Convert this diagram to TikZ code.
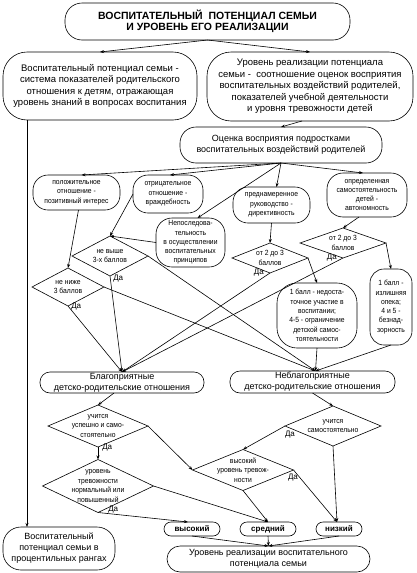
\documentclass[tikz,border=0pt]{standalone}
\usepackage{fontspec}
\setmainfont{Liberation Sans}
\newfontfamily\nfont[FakeStretch=0.9]{Liberation Sans}
\usetikzlibrary{shapes.geometric,arrows.meta}
\begin{document}
\begin{tikzpicture}[x=1pt,y=-1pt,
  every path/.style={line width=0.6pt},
  rbx/.style={draw, rounded corners=#1, align=center, inner sep=0pt, outer sep=0pt},
  rbx/.default=12pt,
  big/.style={font=\fontsize{9.5}{11.5}\selectfont},
  mid/.style={font=\fontsize{9}{11}\selectfont},
  sm/.style={font=\nfont\fontsize{7.5}{9.3}\selectfont},
  res/.style={font=\bfseries\fontsize{8}{9}\selectfont},
  dia/.style={draw, diamond, inner sep=0pt, outer sep=0pt},
  dtx/.style={font=\nfont\fontsize{7.5}{9.5}\selectfont, align=center, inner sep=0pt},
  da/.style={font=\fontsize{8}{8}\selectfont, inner sep=0pt},
  arr/.style={-{Stealth[length=4pt,width=3pt]}}
]
\useasboundingbox (0,0) rectangle (416,573);

% top
\node[rbx=17pt, minimum width=285pt, minimum height=37pt,
      font=\bfseries\fontsize{10.5}{11.5}\selectfont] (title) at (207.5,21.5)
  {ВОСПИТАТЕЛЬНЫЙ\ \ ПОТЕНЦИАЛ СЕМЬИ\\И УРОВЕНЬ ЕГО РЕАЛИЗАЦИИ};
\node[rbx=24pt, big, minimum width=194pt, minimum height=68pt] (lbox) at (100,86)
  {Воспитательный потенциал семьи -\\система показателей родительского\\отношения к детям, отражающая\\уровень знаний в вопросах воспитания};
\node[rbx=24pt, big, minimum width=206pt, minimum height=69pt] (rbox) at (310,86.5)
  {Уровень реализации потенциала\\семьи -\ \ соотношение оценок восприятия\\воспитательных воздействий родителей,\\показателей учебной деятельности\\и уровня тревожности детей};
\node[rbx=16pt, mid, minimum width=202pt, minimum height=36pt] (ocenka) at (281,145)
  {Оценка восприятия подростками\\воспитательных воздействий родителей};

% categories
\node[rbx=15pt, sm, minimum width=87pt, minimum height=35pt] (pos) at (76.5,192.5)
  {положительное\\отношение -\\позитивный интерес};
\node[rbx=15pt, sm, minimum width=70pt, minimum height=38pt] (neg) at (168,194)
  {отрицательное\\отношение -\\враждебность};
\node[rbx=16pt, sm, minimum width=69pt, minimum height=49pt] (nonseq) at (190.5,242.5)
  {Непоследова-\\тельность\\в осуществлении\\воспитательных\\принципов};
\node[rbx=15pt, sm, minimum width=77pt, minimum height=36pt] (pred) at (271.5,205)
  {преднамеренное\\руководство -\\директивность};
\node[rbx=16pt, sm, minimum width=80pt, minimum height=44pt] (def) at (367,195)
  {определенная\\самостоятельность\\детей -\\автономность};

% diamonds upper
\node[dia, minimum width=76pt, minimum height=40pt] (d1) at (110,256) {};
\node[dtx] (d1t) at (d1) {не выше\\3-х баллов};
\node[dia, minimum width=72pt, minimum height=38pt] (d2) at (68,287) {};
\node[dtx] (d2t) at (d2) {не ниже\\3 баллов};
\node[dia, minimum width=76pt, minimum height=30pt] (d3) at (270,258) {};
\node[dtx] (d3t) at (d3) {от 2 до 3\\баллов};
\node[dia, minimum width=86pt, minimum height=30pt] (d4) at (343,243) {};
\node[dtx] (d4t) at (d4) {от 2 до 3\\баллов};

\node[rbx=20pt, sm, minimum width=80pt, minimum height=65pt] (insuff) at (317,315.5)
  {1 балл - недоста-\\точное участие в\\воспитании;\\4-5 - ограничение\\детской самос-\\тоятельности};
\node[rbx=14pt, sm, minimum width=42pt, minimum height=76pt] (excess) at (391,307)
  {1 балл -\\излишняя\\опека;\\4 и 5 -\\безнад-\\зорность};

% relations
\node[rbx=10pt, mid, minimum width=164pt, minimum height=21pt] (blag) at (122,382.5)
  {Благоприятные\\детско-родительские отношения};
\node[rbx=10pt, mid, minimum width=165pt, minimum height=22pt] (nebl) at (312.5,382)
  {Неблагоприятные\\детско-родительские отношения};

% diamonds lower
\node[dia, minimum width=100pt, minimum height=42pt] (d5) at (98,426) {};
\node[dtx] (d5t) at (d5) {учится\\успешно и само-\\стоятельно};
\node[dia, minimum width=96pt, minimum height=40pt] (d6) at (333,426) {};
\node[dtx] (d6t) at (d6) {учится\\самостоятельно};
\node[dia, minimum width=111pt, minimum height=53pt] (d7) at (98,486) {};
\node[dtx] (d7t) at (d7) {уровень\\тревожности\\нормальный или\\повышенный};
\node[dia, minimum width=101pt, minimum height=41pt] (d8) at (243,470) {};
\node[dtx] (d8t) at (d8) {высокий\\уровень тревож-\\ности};

% results
\node[rbx=7pt, res, minimum width=56pt, minimum height=14pt] (high) at (192,529) {высокий};
\node[rbx=7pt, res, minimum width=56pt, minimum height=14pt] (midl) at (268,529) {средний};
\node[rbx=7pt, res, minimum width=46pt, minimum height=14pt] (low) at (339,529) {низкий};
\node[rbx=13pt, mid, minimum width=203pt, minimum height=26pt] (resn) at (268.5,559)
  {Уровень реализации воспитательного\\потенциала семьи};
\node[rbx=18pt, mid, minimum width=112pt, minimum height=43pt] (pct) at (59,548.5)
  {Воспитательный\\потенциал семьи в\\процентильных рангах};

% Да labels
\node[da, anchor=west] (y1) at (113,279) {Да};
\node[da, anchor=west] (y2) at (71,307) {Да};
\node[da, anchor=east] (y3) at (264,273) {Да};
\node[da, anchor=east] (y4) at (337,258) {Да};
\node[da, anchor=west] (y5) at (102,448) {Да};
\node[da, anchor=north] (y6) at (290,431) {Да};
\node[da, anchor=west] (y7) at (108,510) {Да};
\node[da, anchor=north] (y8) at (293,474) {Да};

% connectors
\draw[arr] (title.south) -- (lbox.north);
\draw[arr] (title.south) -- (rbox.north);
\draw[arr] ([xshift=24pt]lbox.south west) -- ([xshift=24pt]pct.north west);
\draw[arr] ([xshift=-8pt]rbox.south) -- (ocenka.north);

\draw[arr] (ocenka.south) -- ([xshift=5pt]pos.north);
\draw[arr] (ocenka.south) -- ([xshift=2pt]neg.north);
\draw[arr] (ocenka.south) -- ([xshift=7pt]nonseq.north);
\draw[arr] (ocenka.south) -- ([xshift=5pt]pred.north);
\draw[arr] (ocenka.south) -- ([xshift=-4pt]def.north);

\draw[arr] (neg.west) -- (d1.north);
\draw[arr] (nonseq.west) -- (d1.north);
\draw[arr] ([xshift=2pt]pos.south) -- (d2.north);
\draw[arr] (pred.south) -- (d3.north);
\draw[arr] ([xshift=-8pt]def.south) -- (d4.north);
\draw[arr] (d3.east) -- (insuff.north);
\draw[arr] (d4.east) -- (excess.north);

\draw[arr] (d1.south) -- (blag.north);
\draw[arr] (d2.south) -- (blag.north);
\draw[arr] (d3.south) -- (blag.north);
\draw[arr] (d4.south) -- (blag.north);
\draw[arr] (d1.east) -- ([xshift=3pt]nebl.north);
\draw[arr] (d2.east) -- ([xshift=3pt]nebl.north);
\draw[arr] (insuff.south) -- ([xshift=3pt]nebl.north);
\draw[arr] (excess.south) -- ([xshift=3pt]nebl.north);

\draw[arr] ([xshift=-8pt]blag.south) -- (d5.north);
\draw[arr] (nebl.south) -- (d6.north);
\draw[arr] (d5.south) -- (d7.north);
\draw[arr] (d5.east) -- (d8.west);
\draw[arr] (d6.west) -- (d8.north);
\draw[arr] (d6.south) -- ([xshift=-2pt]low.north);
\draw[arr] (d7.south) -- ([xshift=-4pt]high.north);
\draw[arr] (d7.east) -- (midl.north);
\draw[arr] (d8.south) -- (midl.north);
\draw[arr] (d8.east) -- ([xshift=-2pt]low.north);
\draw[arr] (high.south) -- (resn.north);
\draw[arr] (midl.south) -- (resn.north);
\draw[arr] (low.south) -- (resn.north);
\end{tikzpicture}
\end{document}
